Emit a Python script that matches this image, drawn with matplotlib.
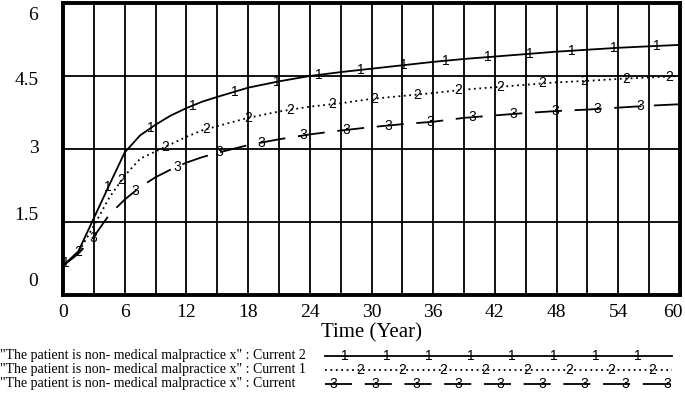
import matplotlib.pyplot as plt
import numpy as np
from matplotlib.transforms import blended_transform_factory

# time axis (years) and the three runs
time = [0, 1.5, 3, 4.5, 6, 7.5, 9, 10.5, 12, 13.5, 15, 18, 21, 24, 27, 30, 33, 36, 39, 42,
        45, 48, 51, 54, 57, 60]
current2 = [0.6, 0.9, 1.58, 2.26, 2.93, 3.28, 3.5, 3.69, 3.84, 3.97, 4.07, 4.26, 4.39, 4.5,
            4.58, 4.65, 4.72, 4.79, 4.85, 4.9, 4.95, 5.0, 5.04, 5.08, 5.11, 5.14]
current1 = [0.6, 0.88, 1.42, 2.0, 2.45, 2.8, 2.95, 3.1, 3.25, 3.38, 3.47, 3.64, 3.77, 3.87,
            3.94, 4.03, 4.09, 4.15, 4.22, 4.27, 4.32, 4.37, 4.4, 4.44, 4.47, 4.5]
current = [0.6, 0.85, 1.2, 1.65, 1.96, 2.22, 2.42, 2.58, 2.72, 2.83, 2.92, 3.08, 3.2, 3.3,
           3.38, 3.45, 3.51, 3.56, 3.64, 3.69, 3.74, 3.78, 3.81, 3.85, 3.89, 3.92]

# where the run numbers sit along each line
mark_t1 = [0.3, 4.4, 8.5, 12.6, 16.7, 20.8, 24.9, 29.0, 33.1, 37.2, 41.3, 45.4, 49.5, 53.6, 57.7]
mark_t2 = [1.5, 5.7, 9.9, 13.9, 18.0, 22.1, 26.2, 30.3, 34.4, 38.4, 42.5, 46.6, 50.7, 54.8, 58.9]
mark_t3 = [2.9, 7.0, 11.1, 15.2, 19.3, 23.4, 27.5, 31.6, 35.7, 39.8, 43.8, 47.9, 52.0, 56.1]

legend_labels = ['"The patient is non- medical malpractice x" : Current 2',
                 '"The patient is non- medical malpractice x" : Current 1',
                 '"The patient is non- medical malpractice x" : Current']

x_ticks = [0, 6, 12, 18, 24, 30, 36, 42, 48, 54, 60]
y_ticks = ["6", "4.5", "3", "1.5", "0"]

serif = "Liberation Serif"
sans = "Liberation Sans"

W, H = 685, 397
fig = plt.figure(figsize=(W / 100, H / 100), dpi=100)
ax = fig.add_axes([63 / W, 1 - 295 / H, 617 / W, 292 / H])

ax.set_xlim(0, 60)
ax.set_ylim(0, 6)
ax.set_xticks(np.arange(0, 61, 3))
ax.set_yticks([0, 1.5, 3, 4.5, 6])
ax.grid(True, color="black", linewidth=1.3)
ax.tick_params(length=0, labelleft=False, labelbottom=False)
for s in ax.spines.values():
    s.set_linewidth(2.8)

dotted = (0, (1, 2))
dashed = (0, (15, 7))
series = [(current2, "-", mark_t1, "1"), (current1, dotted, mark_t2, "2"),
          (current, dashed, mark_t3, "3")]
for vals, ls, mt, lab in series:
    ax.plot(time, vals, color="black", linestyle=ls, linewidth=1.3, zorder=3)
    for t in mt:
        ax.text(t, np.interp(t, time, vals), lab, fontsize=10, family=sans,
                ha="center", va="center", zorder=4)

# x tick labels
for t in x_ticks:
    ha = "right" if t == 60 else "center"
    ax.text(t + (0.3 if t == 60 else 0), -0.35, str(t), ha=ha, va="center",
            fontsize=14, family=serif, clip_on=False)
ax.text(30, -0.78, "Time (Year)", ha="center", va="center", fontsize=15,
        family=serif, clip_on=False)

# y tick labels (Vensim draws them slightly offset from the grid lines)
ytr = blended_transform_factory(ax.transAxes, ax.transData)
for lab, y in zip(y_ticks, [5.75, 4.4, 3.02, 1.64, 0.27]):
    ax.text(-0.04, y, lab, transform=ytr, ha="right", va="center",
            fontsize=14, family=serif)

# legend strip at the bottom, in pixel coordinates
lax = fig.add_axes([0, 0, 1, 1], facecolor="none")
lax.set_xlim(0, W)
lax.set_ylim(H, 0)
lax.axis("off")
rows = [356, 370, 384]
legend_styles = ["-", dotted, dashed]
legend_marks = [(345, 8, "1"), (360, 8, "2"), (333, 9, "3")]
for y, lab, ls, (x0, n, m) in zip(rows, legend_labels, legend_styles, legend_marks):
    lax.text(0, y, lab, ha="left", va="center", fontsize=10, family=serif)
    lax.plot([325, 672], [y, y], color="black", linestyle=ls, linewidth=1.3)
    for k in range(n):
        lax.text(x0 + 41.8 * k, y, m, ha="center", va="center", fontsize=10, family=sans)

fig.savefig("out.png", dpi=100)
